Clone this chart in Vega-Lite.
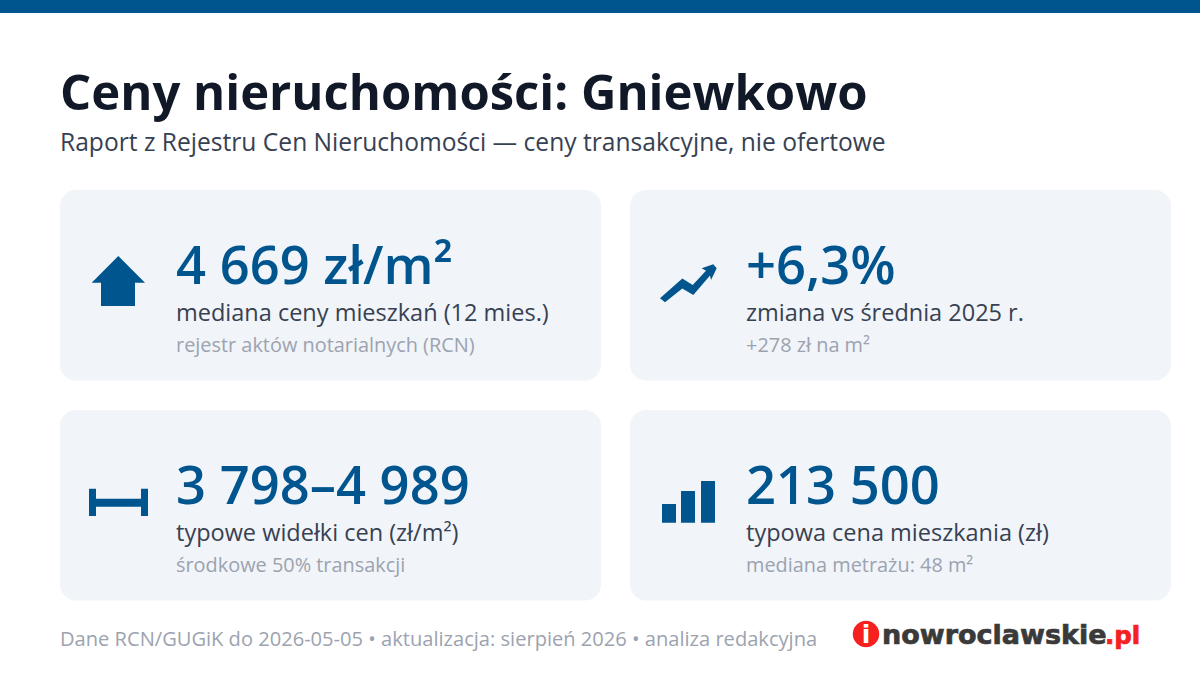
{
  "$schema": "https://vega.github.io/schema/vega-lite/v6.json",
  "width": 1200,
  "height": 675,
  "padding": 0,
  "autosize": {"type": "fit", "contains": "padding"},
  "background": "#ffffff",
  "config": {"view": {"stroke": null}, "text": {"font": "Open Sans", "baseline": "alphabetic", "align": "left"}},
  "datasets": {
    "bar": [{"from": 0, "to": 1}],
    "header": [{"col": "left", "row": "header", "title": "Ceny nieruchomości: Gniewkowo", "subtitle": "Raport z Rejestru Cen Nieruchomości — ceny transakcyjne, nie ofertowe"}],
    "cards": [
      {"col": "left", "row": "top", "icon": "house", "value": "4 669 zł/m²", "label": "mediana ceny mieszkań (12 mies.)", "note": "rejestr aktów notarialnych (RCN)"},
      {"col": "right", "row": "top", "icon": "trend", "value": "+6,3%", "label": "zmiana vs średnia 2025 r.", "note": "+278 zł na m²"},
      {"col": "left", "row": "bottom", "icon": "range", "value": "3 798–4 989", "label": "typowe widełki cen (zł/m²)", "note": "środkowe 50% transakcji"},
      {"col": "right", "row": "bottom", "icon": "bars", "value": "213 500", "label": "typowa cena mieszkania (zł)", "note": "mediana metrażu: 48 m²"}
    ],
    "footer": [{"col": "left", "row": "footer", "source": "Dane RCN/GUGiK do 2026-05-05 • aktualizacja: sierpień 2026 • analiza redakcyjna"}],
    "logo": [{"col": "right", "row": "footer", "initial": "i", "brand": "nowroclawskie", "tld": ".pl"}]
  },
  "resolve": {"scale": {"x": "independent", "y": "independent"}},
  "layer": [
    {
      "data": {"name": "bar"},
      "mark": {"type": "rect", "color": "#00558f"},
      "encoding": {
        "x": {"field": "from", "type": "quantitative", "axis": null, "scale": {"domain": [0, 1], "range": [0, 1200]}},
        "x2": {"field": "to"},
        "y": {"datum": 0, "type": "quantitative", "axis": null, "scale": {"domain": [0, 1], "range": [0, 13]}},
        "y2": {"datum": 1}
      }
    },
    {
      "encoding": {
        "x": {"field": "col", "type": "nominal", "bandPosition": 0, "axis": null, "scale": {"type": "band", "domain": ["left", "right"], "range": [60, 1171], "paddingInner": 0.0509, "paddingOuter": 0}},
        "y": {"field": "row", "type": "nominal", "bandPosition": 0, "axis": null, "scale": {"type": "band", "domain": ["header", "top", "bottom", "footer"], "range": [-30, 820.5], "paddingInner": 0.1341, "paddingOuter": 0}}
      },
      "layer": [
        {
          "data": {"name": "cards"},
          "mark": {"type": "rect", "color": "#f1f4f9", "cornerRadius": 16},
          "encoding": {
            "x": {"field": "col", "type": "nominal"},
            "y": {"field": "row", "type": "nominal"}
          }
        },
        {
          "data": {"name": "cards"},
          "mark": {"type": "point", "filled": true, "opacity": 1, "color": "#00558f", "size": 4, "strokeWidth": 0},
          "encoding": {
            "shape": {
              "field": "icon",
              "type": "nominal",
              "legend": null,
              "scale": {
                "domain": ["house", "trend", "range", "bars"],
                "range": [
                  "M58.3 66L85 92.7H75V116H41V92.7H31.7Z",
                  "M30 108.3L35 112.3L52.3 98.5L63.3 105L80 85.5L81 90L86.7 78.3L83.3 74.3L71.7 78.3L76 80.7L62.7 95L52.3 88.5Z",
                  "M29 78.7H36V88.7H81V78.7H88V106H81V96.7H36V106H29Z",
                  "M32 94H46V112.7H32ZM51 81H65V112.7H51ZM71 71H85V112.7H71Z"
                ]
              }
            }
          }
        },
        {
          "data": {"name": "cards"},
          "mark": {"type": "text", "fontSize": 52.5, "fontWeight": 600, "color": "#00558f", "dx": 116, "dy": 94},
          "encoding": {"text": {"field": "value"}}
        },
        {
          "data": {"name": "cards"},
          "mark": {"type": "text", "fontSize": 23.5, "color": "#374151", "dx": 116, "dy": 131},
          "encoding": {"text": {"field": "label"}}
        },
        {
          "data": {"name": "cards"},
          "mark": {"type": "text", "fontSize": 19.9, "color": "#9ca3af", "dx": 116, "dy": 162},
          "encoding": {"text": {"field": "note"}}
        },
        {
          "data": {"name": "header"},
          "mark": {"type": "text", "fontSize": 49, "fontWeight": 700, "color": "#111827", "dy": 139.5},
          "encoding": {"text": {"field": "title"}}
        },
        {
          "data": {"name": "header"},
          "mark": {"type": "text", "fontSize": 24.6, "color": "#374151", "dy": 181},
          "encoding": {"text": {"field": "subtitle"}}
        },
        {
          "data": {"name": "footer"},
          "mark": {"type": "text", "fontSize": 20.1, "color": "#9ca3af", "dy": 16},
          "encoding": {"text": {"field": "source"}}
        },
        {
          "data": {"name": "logo"},
          "mark": {"type": "point", "filled": true, "opacity": 1, "color": "#f5201f", "size": 700, "strokeWidth": 0, "xOffset": 236, "yOffset": 4},
          "encoding": {"shape": {"value": "circle"}}
        },
        {
          "data": {"name": "logo"},
          "mark": {"type": "text", "font": "DejaVu Sans", "fontWeight": 700, "fontSize": 25, "color": "#ffffff", "align": "center", "dx": 236, "dy": 13},
          "encoding": {"text": {"field": "initial"}}
        },
        {
          "data": {"name": "logo"},
          "mark": {"type": "text", "font": "DejaVu Sans", "fontWeight": 700, "fontSize": 27, "color": "#3a3a3a", "stroke": "#3a3a3a", "strokeWidth": 0.7, "dx": 252, "dy": 14},
          "encoding": {"text": {"field": "brand"}}
        },
        {
          "data": {"name": "logo"},
          "mark": {"type": "text", "font": "DejaVu Sans", "fontWeight": 700, "fontSize": 24.5, "color": "#f5201f", "stroke": "#f5201f", "strokeWidth": 0.7, "dx": 475, "dy": 14},
          "encoding": {"text": {"field": "tld"}}
        }
      ]
    }
  ]
}
